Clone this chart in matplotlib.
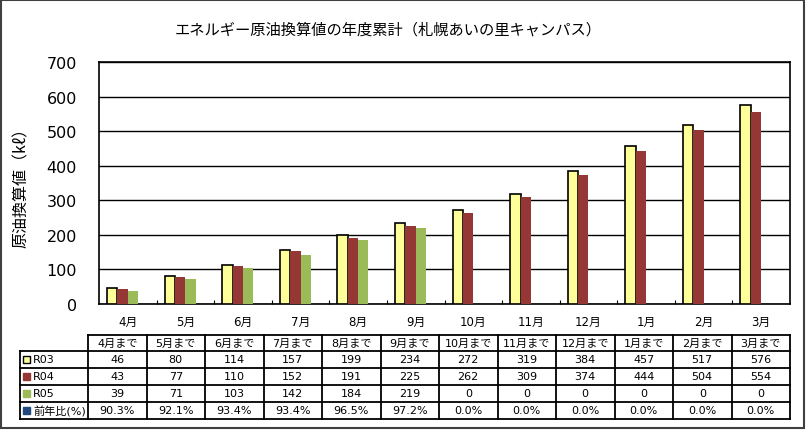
import matplotlib.pyplot as plt
from matplotlib.patches import Rectangle

plt.rcParams['font.family'] = ['DejaVu Sans', 'Noto Sans CJK JP']
JP = ['Noto Sans CJK JP', 'DejaVu Sans']

months = ['4月', '5月', '6月', '7月', '8月', '9月', '10月', '11月', '12月', '1月', '2月', '3月']
col_labels = [m + 'まで' for m in months]
r03 = [46, 80, 114, 157, 199, 234, 272, 319, 384, 457, 517, 576]
r04 = [43, 77, 110, 152, 191, 225, 262, 309, 374, 444, 504, 554]
r05 = [39, 71, 103, 142, 184, 219, 0, 0, 0, 0, 0, 0]
ratio = [90.3, 92.1, 93.4, 93.4, 96.5, 97.2, 0.0, 0.0, 0.0, 0.0, 0.0, 0.0]

series_names = ['R03', 'R04', 'R05', '前年比(%)']
colors = ['#FFFF99', '#953735', '#9BBB59', '#1F497D']

W, H = 806, 431
fig = plt.figure(figsize=(W / 100, H / 100), dpi=100)

# main chart area (pixel box 99..790, 63..305)
ax = fig.add_axes([99 / W, 1 - 305 / H, 691 / W, 242 / H])
n = len(months)
bw = 0.18
x = list(range(n))
for k, (vals, c) in enumerate(zip([r03, r04, r05, [v / 100 for v in ratio]], colors)):
    pos = [i - 1.5 * bw + k * bw for i in x]
    if k == 0:
        ax.bar(pos, vals, bw, color=c, edgecolor='black', linewidth=1.2, zorder=3)
    else:
        ax.bar(pos, vals, bw, color=c, linewidth=0, zorder=3)

ax.set_xlim(-0.5, n - 0.5)
ax.set_ylim(0, 700)
ax.set_yticks(range(0, 701, 100))
ax.yaxis.grid(True, color='black', linewidth=1)
ax.set_axisbelow(True)
ax.tick_params(axis='y', length=0, labelsize=11.5, pad=16)
ax.set_xticks(x)
ax.set_xticklabels(months, fontsize=8.5)
ax.tick_params(axis='x', length=0, pad=8)
ax.set_xticks([i + 0.5 for i in range(n - 1)], minor=True)
ax.tick_params(axis='x', which='minor', direction='in', length=3, width=0.8)
for s in ax.spines.values():
    s.set_color('black')
    s.set_linewidth(1.2)
ax.set_ylabel('原油換算値（kℓ）', fontsize=11.5, family=JP)
ax.yaxis.set_label_coords(-0.1, 0.5)

fig.text(388 / W, 1 - 30 / H, 'エネルギー原油換算値の年度累計（札幌あいの里キャンパス）',
         ha='center', va='center', fontsize=11, family=JP)

# overlay in pixel coordinates for table and border
ov = fig.add_axes([0, 0, 1, 1])
ov.set_xlim(0, W)
ov.set_ylim(H, 0)
ov.axis('off')
ov.patch.set_alpha(0)

ov.add_patch(Rectangle((1, 1), W - 3, H - 3, fill=False, edgecolor='#404040', linewidth=1.5))

tx0, tx1 = 20, 790
cx0 = 88
cw = (tx1 - cx0) / n
rows_y = [336, 352, 369, 386, 403, 420]
lw = 1.3
# horizontal lines
ov.plot([cx0, tx1], [rows_y[0], rows_y[0]], color='black', lw=lw)
for yy in rows_y[1:]:
    ov.plot([tx0, tx1], [yy, yy], color='black', lw=lw)
# vertical lines
ov.plot([tx0, tx0], [rows_y[1], rows_y[-1]], color='black', lw=lw)
for j in range(n + 1):
    xx = cx0 + j * cw
    ov.plot([xx, xx], [rows_y[0], rows_y[-1]], color='black', lw=lw)

for j, lab in enumerate(col_labels):
    ov.text(cx0 + (j + 0.5) * cw, (rows_y[0] + rows_y[1]) / 2, lab,
            ha='center', va='center', fontsize=8)

table_rows = [
    [str(v) for v in r03],
    [str(v) for v in r04],
    [str(v) for v in r05],
    ['%.1f%%' % v for v in ratio],
]
for r, (name, c, vals) in enumerate(zip(series_names, colors, table_rows)):
    ym = (rows_y[r + 1] + rows_y[r + 2]) / 2
    ec = 'black' if r == 0 else c
    ov.add_patch(Rectangle((23, ym - 3.5), 7, 7, facecolor=c, edgecolor=ec, linewidth=1))
    ov.text(33, ym, name, ha='left', va='center', fontsize=8)
    for j, v in enumerate(vals):
        ov.text(cx0 + (j + 0.5) * cw, ym, v, ha='center', va='center', fontsize=8)

fig.savefig('out.png', dpi=100)
